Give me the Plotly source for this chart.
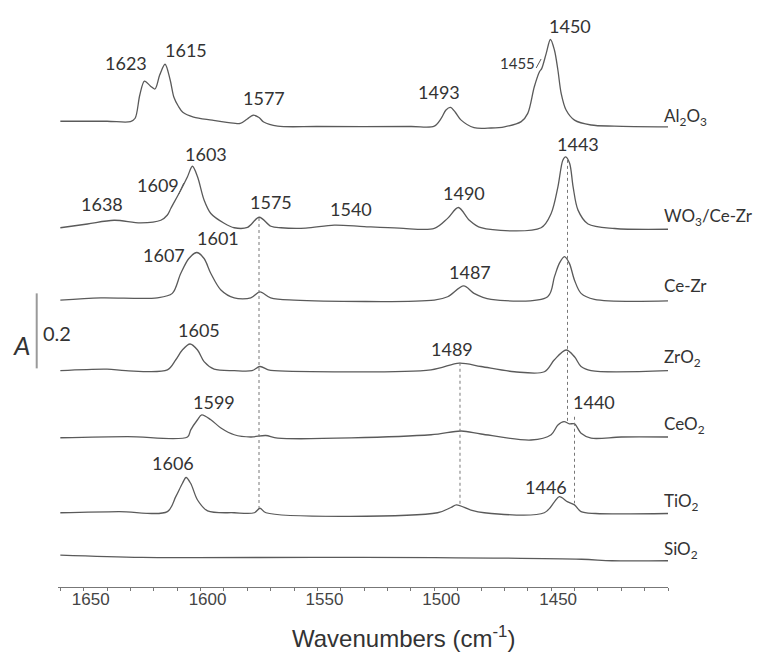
import plotly.graph_objects as go

# ---- spectra: wavenumber (cm-1) and absorbance above each trace's baseline ----
al2o3_wn = [1660, 1640, 1630, 1628, 1626, 1624, 1621.5, 1619.5, 1617.5, 1615.2, 1613, 1611.4, 1609.5,
            1607.6, 1603, 1595, 1586, 1583, 1580, 1577.5, 1575, 1573, 1567, 1550, 1510, 1500, 1497,
            1495, 1493.1, 1491, 1488.5, 1483, 1475.7, 1470, 1462.8, 1460, 1457.2, 1455, 1454,
            1452.1, 1450.3, 1448.6, 1447.1, 1445.7, 1443.6, 1440, 1432.9, 1423, 1400]
al2o3_ab = [0.013, 0.013, 0.012, 0.021, 0.083, 0.120, 0.107, 0.099, 0.136, 0.165, 0.123, 0.077, 0.053,
            0.037, 0.024, 0.016, 0.008, 0.007, 0.019, 0.029, 0.023, 0.011, 0.000, -0.001, -0.001, 0.000, 0.021,
            0.043, 0.050, 0.037, 0.016, -0.004, -0.005, -0.002, 0.012, 0.034, 0.105, 0.145, 0.154,
            0.194, 0.231, 0.203, 0.149, 0.087, 0.043, 0.016, 0.003, 0.000, -0.002]

wo3cz_wn = [1660, 1648.4, 1637, 1625.6, 1617, 1614.2, 1612.7, 1608.5, 1605.6, 1603.5, 1601.3, 1598.5,
            1595.6, 1589.9, 1585.6, 1579.9, 1574.9, 1569.9, 1565.6, 1555, 1542.8, 1530, 1515, 1500,
            1494.3, 1489.7, 1485, 1480, 1454.3, 1450, 1447.1, 1445, 1443.8, 1442.1, 1440.6, 1438.5,
            1434.2, 1422.8, 1400]
wo3cz_ab = [0.001, 0.011, 0.021, 0.014, 0.021, 0.035, 0.053, 0.101, 0.137, 0.165, 0.137, 0.075,
            0.039, 0.013, 0.001, 0.002, 0.029, 0.005, 0.001, 0.000, 0.008, 0.004, 0.000, -0.001,
            0.026, 0.055, 0.021, 0.001, 0.001, 0.039, 0.110, 0.181, 0.190, 0.173, 0.110, 0.048,
            0.011, -0.001, -0.003]

cezr_wn = [1660, 1642.7, 1618.5, 1612.1, 1608.5, 1605, 1601.6, 1598.5, 1595.6, 1591.3, 1585.6, 1578.5,
           1574.6, 1570, 1560, 1500, 1494.3, 1487.4, 1483, 1475.7, 1451.5, 1448.6, 1446.5, 1444.3,
           1442.2, 1440, 1437.2, 1431.5, 1400]
cezr_ab = [0.000, 0.006, 0.006, 0.018, 0.071, 0.111, 0.127, 0.111, 0.071, 0.027, 0.006, 0.006,
           0.022, 0.006, 0.000, 0.000, 0.009, 0.038, 0.018, 0.002, 0.009, 0.062, 0.098, 0.116,
           0.098, 0.053, 0.018, 0.002, -0.002]

zro2_wn = [1660, 1640, 1632, 1614.2, 1610.6, 1607.8, 1604.5, 1601.3, 1598.5, 1594.2, 1585.6, 1578,
           1574.6, 1571, 1568.5, 1501.4, 1489.3, 1480, 1465.7, 1452.9, 1448.6, 1443.6, 1440, 1437.2,
           1432.9, 1400]
zro2_ab = [0.000, 0.004, 0.000, 0.002, 0.029, 0.055, 0.071, 0.055, 0.024, 0.004, 0.000, 0.000,
           0.011, 0.002, 0.000, 0.002, 0.020, 0.011, -0.003, -0.003, 0.029, 0.055, 0.037, 0.011,
           0.000, 0.000]

ceo2_wn = [1660, 1631.3, 1605.6, 1604.2, 1601.3, 1599.5, 1595.6, 1591.3, 1585.6, 1578.5, 1572.1, 1567,
           1501.4, 1488.5, 1480, 1458.6, 1450, 1447.1, 1444.5, 1442.2, 1440, 1437.2, 1432.9, 1420, 1400]
ceo2_ab = [-0.001, 0.002, 0.001, 0.020, 0.047, 0.060, 0.047, 0.025, 0.007, 0.001, 0.005, -0.002,
           0.007, 0.017, 0.009, -0.007, 0.007, 0.033, 0.042, 0.036, 0.036, 0.011, -0.002, 0.001, 0.001]

tio2_wn = [1660, 1635, 1614.2, 1610.6, 1607.8, 1606.2, 1604.2, 1601.3, 1597, 1585.6, 1577, 1574.6, 1572,
           1498.6, 1492.9, 1490.5, 1484.3, 1478.6, 1452.9, 1448.6, 1446.5, 1442.9, 1440, 1437.2, 1431, 1400]
tio2_ab = [0.000, 0.003, 0.003, 0.043, 0.078, 0.094, 0.078, 0.034, 0.005, 0.000, 0.000, 0.012, 0.000,
           0.000, 0.014, 0.021, 0.007, 0.000, 0.000, 0.029, 0.043, 0.029, 0.021, 0.003, -0.002, -0.002]

sio2_wn = [1660, 1625, 1550, 1500, 1437, 1424, 1400]
sio2_ab = [0.015, 0.009, 0.009, 0.0085, 0.004, 0.000, 0.000]

sample_names = ["Al<sub>2</sub>O<sub>3</sub>", "WO<sub>3</sub>/Ce-Zr", "Ce-Zr", "ZrO<sub>2</sub>",
                "CeO<sub>2</sub>", "TiO<sub>2</sub>", "SiO<sub>2</sub>"]
offsets = [1.229, 0.957, 0.765, 0.577, 0.399, 0.198, 0.070]
name_y = [1.253, 0.987, 0.803, 0.611, 0.432, 0.2275, 0.0987]

# peak labels: text, wavenumber position, height
peak_text = ["1623", "1615", "1577", "1493", "1450",
             "1638", "1609", "1603", "1575", "1540", "1490", "1443",
             "1607", "1601", "1487", "1605", "1489", "1599", "1440", "1606", "1446"]
peak_x = [1632.0, 1606.3, 1572.9, 1498.1, 1441.9,
          1642.0, 1618.4, 1597.8, 1569.9, 1535.7, 1487.1, 1438.6,
          1615.6, 1592.7, 1484.8, 1600.6, 1492.4, 1594.2, 1431.5, 1612.0, 1452.0]
peak_y = [1.397, 1.432, 1.304, 1.319, 1.497,
          1.021, 1.072, 1.155, 1.026, 1.008, 1.050, 1.181,
          0.885, 0.930, 0.839, 0.685, 0.634, 0.494, 0.494, 0.330, 0.267]
small_text, small_x, small_y = "1455", 1464.3, 1.396

# dotted guide lines: wavenumber, y-start, y-end
guide_x = [1575, 1443, 1489, 1440]
guide_y0 = [0.984, 1.139, 0.598, 0.454]
guide_y1 = [0.211, 0.441, 0.219, 0.223]

spectra = [(al2o3_wn, al2o3_ab), (wo3cz_wn, wo3cz_ab), (cezr_wn, cezr_ab), (zro2_wn, zro2_ab),
           (ceo2_wn, ceo2_ab), (tio2_wn, tio2_ab), (sio2_wn, sio2_ab)]

LINE = "#5a5a5a"
TEXT = "#333333"
LABEL_FONT = "Lato, 'Open Sans', sans-serif"

fig = go.Figure()
for (wn, ab), off, name in zip(spectra, offsets, sample_names):
    fig.add_trace(go.Scatter(
        x=wn, y=[a + off for a in ab], mode="lines",
        line=dict(color=LINE, width=1.3, shape="spline", smoothing=0.9),
        hoverinfo="skip", showlegend=False))

for gx, g0, g1 in zip(guide_x, guide_y0, guide_y1):
    fig.add_shape(type="line", xref="x", yref="y", x0=gx, x1=gx, y0=g0, y1=g1,
                  line=dict(color="#777777", width=1, dash="dot"))

# short leaders pointing at shoulders
fig.add_shape(type="line", xref="x", yref="y", x0=1609.3, x1=1607.2, y0=1.048, y1=1.077,
              line=dict(color=LINE, width=1))
fig.add_shape(type="line", xref="x", yref="y", x0=1456.4, x1=1454.3, y0=1.384, y1=1.408,
              line=dict(color=LINE, width=1))

# absorbance scale bar (0.2 A)
fig.add_shape(type="line", xref="paper", yref="y", x0=-0.0349, x1=-0.0349, y0=0.583, y1=0.783,
              line=dict(color="#9a9a9a", width=2))
fig.add_annotation(xref="paper", yref="y", x=-0.0595, y=0.6453, text="<i>A</i>", showarrow=False,
                   xanchor="center", yanchor="middle", font=dict(family=LABEL_FONT, size=26, color=TEXT))
fig.add_annotation(xref="paper", yref="y", x=-0.0284, y=0.6765, text="0.2", showarrow=False,
                   xanchor="left", yanchor="middle", font=dict(family=LABEL_FONT, size=20, color=TEXT))

for t, x, y in zip(peak_text, peak_x, peak_y):
    fig.add_annotation(x=x, y=y, text=t, showarrow=False, xanchor="center", yanchor="middle",
                       font=dict(family=LABEL_FONT, size=18, color=TEXT))
fig.add_annotation(x=small_x, y=small_y, text=small_text, showarrow=False, xanchor="center",
                   yanchor="middle", font=dict(family=LABEL_FONT, size=15, color=TEXT))

for name, y in zip(sample_names, name_y):
    fig.add_annotation(x=1402.5, y=y, text=name, showarrow=False, xanchor="left", yanchor="middle",
                       font=dict(family=LABEL_FONT, size=17, color=TEXT))

fig.add_annotation(xref="paper", yref="paper", x=0.5664, y=-0.0852,
                   text="Wavenumbers (cm<sup>-1</sup>)", showarrow=False,
                   xanchor="center", yanchor="middle",
                   font=dict(family="'Liberation Sans', Arial, sans-serif", size=24, color=TEXT))

fig.update_layout(
    width=759, height=654,
    margin=dict(l=58, r=91, t=0, b=67),
    paper_bgcolor="white", plot_bgcolor="white",
    showlegend=False,
    xaxis=dict(
        range=[1661, 1400], tickmode="array", tickvals=[1650, 1600, 1550, 1500, 1450],
        ticks="outside", ticklen=3, tickcolor="#777777", showline=True, linecolor="#777777",
        linewidth=1, showgrid=False, zeroline=False, ticklabelshift=-7, ticklabelstandoff=-6,
        tickfont=dict(family="'Liberation Sans', Arial, sans-serif", size=17, color="#444444"),
        minor=dict(dtick=10, tick0=1400, ticks="outside", ticklen=3, tickcolor="#777777", showgrid=False),
    ),
    yaxis=dict(range=[0, 1.5653], visible=False, showgrid=False, zeroline=False),
)

fig.write_html("out.html")
